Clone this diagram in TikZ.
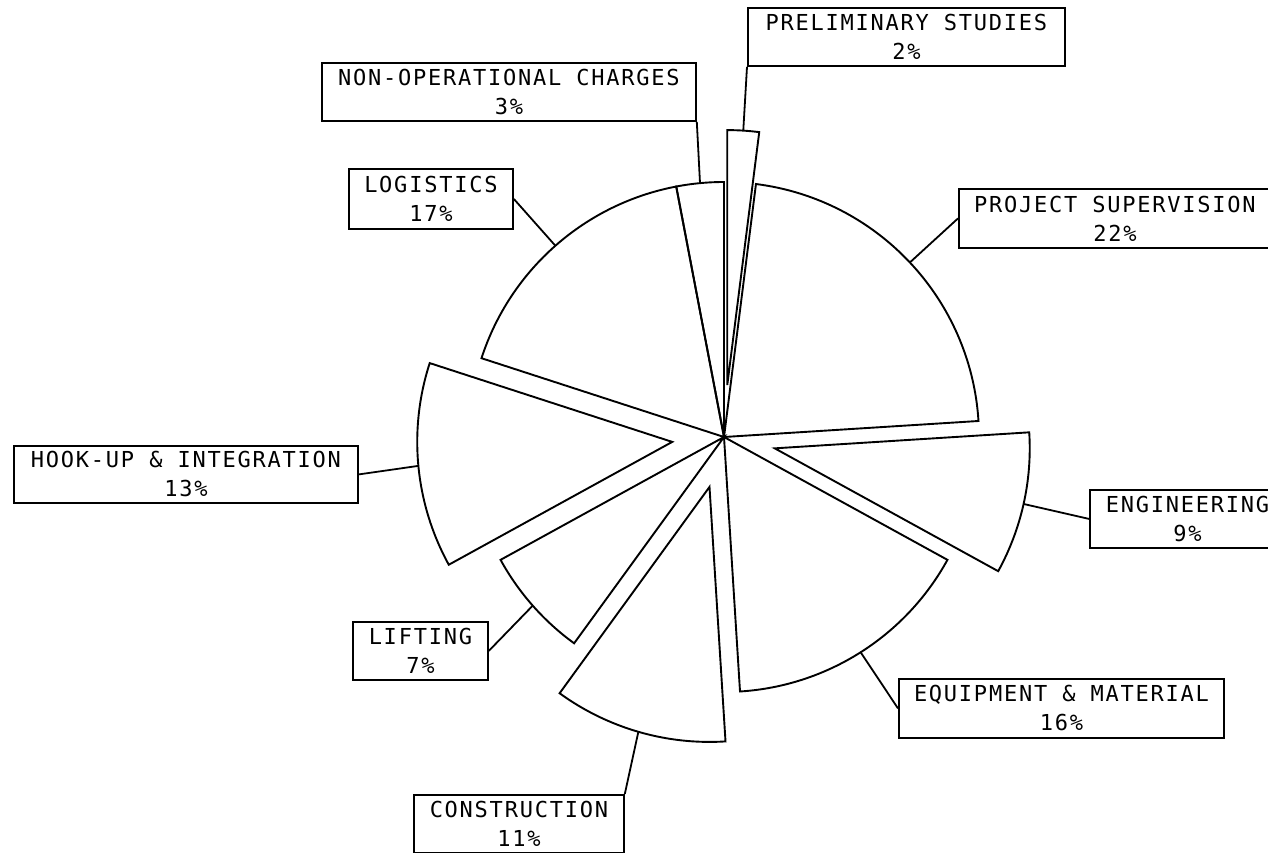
\documentclass[tikz,border=0pt]{standalone}
\usepackage{fontspec}
\newfontfamily\plotfont[LetterSpace=8]{DejaVu Sans Mono}
\begin{document}
\begin{tikzpicture}[x=1pt,y=1pt,
  sec/.style={draw=black, line width=1.9pt, line join=miter},
  lead/.style={draw=black, line width=1.8pt},
  lbl/.style={draw=black, line width=1.8pt, inner sep=0pt, minimum height=58pt,
    align=center, anchor=north west, font=\plotfont\fontsize{22}{29}\selectfont}]
\useasboundingbox (0,0) rectangle (1268,-853);
\fill[white] (0,0) rectangle (1268,-853);
% centre and exploded apexes
\coordinate (C) at (724,-437);
\coordinate (Ap) at ([shift={(86.4:52)}]C);
\coordinate (Ae) at ([shift={(-12.6:52)}]C);
\coordinate (Ac) at ([shift={(-106.2:52)}]C);
\coordinate (Ah) at ([shift={(-174.6:52)}]C);
% sectors
\draw[sec] (Ap) -- ++(82.8:255) arc[start angle=82.8, end angle=90, radius=255] -- cycle;
\draw[sec] (C) -- ++(3.6:255) arc[start angle=3.6, end angle=82.8, radius=255] -- cycle;
\draw[sec] (Ae) -- ++(-28.8:255) arc[start angle=-28.8, end angle=3.6, radius=255] -- cycle;
\draw[sec] (C) -- ++(-86.4:255) arc[start angle=-86.4, end angle=-28.8, radius=255] -- cycle;
\draw[sec] (Ac) -- ++(-126:255) arc[start angle=-126, end angle=-86.4, radius=255] -- cycle;
\draw[sec] (C) -- ++(-151.2:255) arc[start angle=-151.2, end angle=-126, radius=255] -- cycle;
\draw[sec] (Ah) -- ++(-198:255) arc[start angle=-198, end angle=-151.2, radius=255] -- cycle;
\draw[sec] (C) -- ++(100.8:255) arc[start angle=100.8, end angle=162, radius=255] -- cycle;
\draw[sec] (C) -- ++(90:255) arc[start angle=90, end angle=100.8, radius=255] -- cycle;
% leader end points on the arcs
\coordinate (Lp) at ([shift={(86.4:255)}]Ap);
\coordinate (Ls) at ([shift={(43.2:255)}]C);
\coordinate (Le) at ([shift={(-12.6:255)}]Ae);
\coordinate (Lq) at ([shift={(-57.6:255)}]C);
\coordinate (Lc) at ([shift={(-106.2:255)}]Ac);
\coordinate (Ll) at ([shift={(-138.6:255)}]C);
\coordinate (Lh) at ([shift={(-174.6:255)}]Ah);
\coordinate (Lg) at ([shift={(131.4:255)}]C);
\coordinate (Ln) at ([shift={(95.4:255)}]C);
% labels
\node[lbl, minimum width=317pt] (prelim) at (747,-7) {PRELIMINARY STUDIES\\2\%};
\node[lbl, minimum width=374pt] (nonop) at (321,-62) {NON-OPERATIONAL CHARGES\\3\%};
\node[lbl, minimum width=164pt, minimum height=60pt] (logi) at (348,-168) {LOGISTICS\\17\%};
\node[lbl, minimum width=312pt, minimum height=59pt] (proj) at (958,-188) {PROJECT SUPERVISION\\22\%};
\node[lbl, minimum width=195pt] (engi) at (1089,-489) {ENGINEERING\\9\%};
\node[lbl, minimum width=325pt, minimum height=59pt] (equip) at (898,-678) {EQUIPMENT \& MATERIAL\\16\%};
\node[lbl, minimum width=210pt] (constr) at (413,-794) {CONSTRUCTION\\11\%};
\node[lbl, minimum width=135pt] (lift) at (352,-621) {LIFTING\\7\%};
\node[lbl, minimum width=344pt, minimum height=57pt] (hook) at (13,-445) {HOOK-UP \& INTEGRATION\\13\%};
% leaders
\draw[lead] (prelim.south west) -- (Lp);
\draw[lead] (nonop.south east) -- (Ln);
\draw[lead] (logi.east) -- (Lg);
\draw[lead] (proj.west) -- (Ls);
\draw[lead] (engi.west) -- (Le);
\draw[lead] (equip.west) -- (Lq);
\draw[lead] (constr.north east) -- (Lc);
\draw[lead] (lift.east) -- (Ll);
\draw[lead] (hook.east) -- (Lh);
\end{tikzpicture}
\end{document}
